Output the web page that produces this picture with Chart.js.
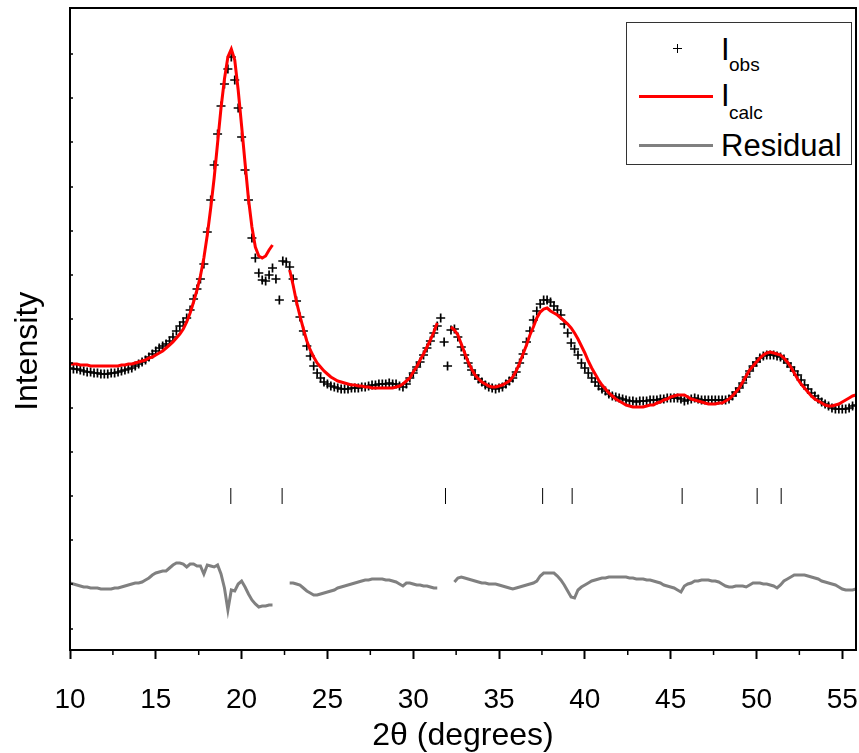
<!DOCTYPE html>
<html>
<head>
<meta charset="utf-8">
<title>XRD refinement</title>
<script src="https://cdn.jsdelivr.net/npm/chart.js@4.4.1/dist/chart.umd.min.js"></script>
<style>
  html, body { margin: 0; padding: 0; background: #fff; overflow: hidden; }
  #wrap { position: relative; width: 859px; height: 753px; overflow: hidden; }
  #myChart { display: block; }
  #legend {
    position: absolute; left: 626px; top: 22px; width: 226px; height: 143px;
    box-sizing: border-box; border: 1px solid #333; background: #fff;
    font-family: 'Liberation Sans', Arial, sans-serif; color: #000;
  }
  #legend .big { position: absolute; font-size: 31px; line-height: 1; }
  #legend .sub { position: absolute; font-size: 19px; line-height: 1; }
  #legend .swatch { position: absolute; left: 12px; width: 74px; height: 3px; }
  #legend .crossH { position: absolute; left: 46px; top: 25px; width: 9px; height: 1px; background: #000; }
  #legend .crossV { position: absolute; left: 50px; top: 21px; width: 1px; height: 9px; background: #000; }
</style>
</head>
<body>
<div id="wrap">
  <canvas id="myChart" width="859" height="753"></canvas>
  <div id="legend">
    <div class="crossH"></div><div class="crossV"></div>
    <span class="big" style="left:94px; top:11px;">I</span><span class="sub" style="left:102px; top:32px;">obs</span>
    <div class="swatch" style="top:72px; background:#ff0000;"></div>
    <span class="big" style="left:94px; top:57px;">I</span><span class="sub" style="left:102px; top:80px;">calc</span>
    <div class="swatch" style="top:121px; background:#808080;"></div>
    <span class="big" style="left:94px; top:107px;">Residual</span>
  </div>
</div>
<script>
// 2-theta grid (degrees), one row per degree
const twoTheta = [
  10.0, 10.2, 10.4, 10.6, 10.8,  11.0, 11.2, 11.4, 11.6, 11.8,
  12.0, 12.2, 12.4, 12.6, 12.8,  13.0, 13.2, 13.4, 13.6, 13.8,
  14.0, 14.2, 14.4, 14.6, 14.8,  15.0, 15.2, 15.4, 15.6, 15.8,
  16.0, 16.2, 16.4, 16.6, 16.8,  17.0, 17.2, 17.4, 17.6, 17.8,
  18.0, 18.2, 18.4, 18.6, 18.8,  19.0, 19.2, 19.4, 19.6, 19.8,
  20.0, 20.2, 20.4, 20.6, 20.8,  21.0, 21.2, 21.4, 21.6, 21.8,
  22.0, 22.2, 22.4, 22.6, 22.8,  23.0, 23.2, 23.4, 23.6, 23.8,
  24.0, 24.2, 24.4, 24.6, 24.8,  25.0, 25.2, 25.4, 25.6, 25.8,
  26.0, 26.2, 26.4, 26.6, 26.8,  27.0, 27.2, 27.4, 27.6, 27.8,
  28.0, 28.2, 28.4, 28.6, 28.8,  29.0, 29.2, 29.4, 29.6, 29.8,
  30.0, 30.2, 30.4, 30.6, 30.8,  31.0, 31.2, 31.4, 31.6, 31.8,
  32.0, 32.2, 32.4, 32.6, 32.8,  33.0, 33.2, 33.4, 33.6, 33.8,
  34.0, 34.2, 34.4, 34.6, 34.8,  35.0, 35.2, 35.4, 35.6, 35.8,
  36.0, 36.2, 36.4, 36.6, 36.8,  37.0, 37.2, 37.4, 37.6, 37.8,
  38.0, 38.2, 38.4, 38.6, 38.8,  39.0, 39.2, 39.4, 39.6, 39.8,
  40.0, 40.2, 40.4, 40.6, 40.8,  41.0, 41.2, 41.4, 41.6, 41.8,
  42.0, 42.2, 42.4, 42.6, 42.8,  43.0, 43.2, 43.4, 43.6, 43.8,
  44.0, 44.2, 44.4, 44.6, 44.8,  45.0, 45.2, 45.4, 45.6, 45.8,
  46.0, 46.2, 46.4, 46.6, 46.8,  47.0, 47.2, 47.4, 47.6, 47.8,
  48.0, 48.2, 48.4, 48.6, 48.8,  49.0, 49.2, 49.4, 49.6, 49.8,
  50.0, 50.2, 50.4, 50.6, 50.8,  51.0, 51.2, 51.4, 51.6, 51.8,
  52.0, 52.2, 52.4, 52.6, 52.8,  53.0, 53.2, 53.4, 53.6, 53.8,
  54.0, 54.2, 54.4, 54.6, 54.8,  55.0, 55.2, 55.4, 55.6, 55.8
];

// observed intensity (arb. units)
const iObs = [
  282, 281, 281, 280, 279,  278, 278, 277, 277, 276,
  276, 276, 277, 277, 278,  279, 280, 281, 282, 284,
  286, 288, 290, 293, 296,  299, 302, 304, 306, 309,
  313, 319, 324, 328, 332,  340, 351, 361, 371, 386,
  418, 450, 485, 516, 544,  566, 581, 593, 570, 542,
  513, 480, 450, 412, 392,  377, 370, 369, 375, 382,
  371, 350, 389, 388, 383,  371, 349, 333, 319, 304,
  294, 284, 277, 272, 268,  266, 264, 263, 262, 261,
  261, 261, 262, 262, 262,  263, 263, 264, 265, 265,
  266, 266, 266, 267, 266,  266, 264, 263, 266, 272,
  277, 283, 288, 295, 302,  309, 317, 324, 332, 308,
  284, 320, 321, 313, 303,  295, 287, 280, 275, 271,
  268, 265, 263, 262, 261,  262, 263, 266, 269, 272,
  278, 287, 296, 308, 319,  330, 339, 346, 350, 350,
  348, 344, 340, 335, 326,  317, 307, 301, 295, 287,
  282, 277, 272, 268, 264,  261, 259, 256, 254, 253,
  252, 251, 250, 249, 249,  248, 249, 249, 249, 250,
  250, 250, 251, 251, 252,  252, 252, 252, 251, 249,
  250, 251, 252, 251, 250,  250, 250, 250, 250, 250,
  250, 250, 251, 254, 258,  262, 267, 273, 279, 284,
  288, 292, 294, 295, 295,  295, 294, 293, 291, 287,
  283, 279, 275, 270, 265,  261, 257, 254, 251, 248,
  246, 244, 242, 241, 241,  241, 241, 242, 244, 245
];

// calculated intensity (null = excluded region)
const iCalc = [
  286, 286, 286, 285, 285,  285, 284, 284, 284, 284,
  284, 284, 284, 284, 284,  285, 285, 286, 286, 287,
  288, 289, 290, 292, 293,  295, 297, 299, 302, 305,
  308, 312, 316, 321, 328,  337, 348, 360, 374, 392,
  415, 442, 472, 507, 542,  571, 593, 601, 590, 560,
  524, 487, 451, 423, 403,  394, 392, 394, 400, 405,
  null, null, null, null, 380,  365, 348, 334, 321, 309,
  300, 293, 287, 283, 279,  276, 273, 271, 269, 268,
  267, 266, 265, 265, 264,  264, 263, 263, 262, 262,
  262, 262, 262, 262, 262,  263, 264, 266, 269, 272,
  278, 283, 290, 296, 303,  310, 318, 327, null, null,
  null, 323, 320, 315, 306,  297, 288, 281, 275, 271,
  268, 266, 264, 263, 263,  264, 265, 267, 269, 273,
  279, 287, 296, 305, 315,  323, 332, 338, 341, 342,
  339, 337, 335, 332, 329,  326, 322, 317, 311, 304,
  297, 289, 282, 276, 270,  265, 261, 257, 254, 251,
  249, 247, 245, 244, 243,  243, 243, 243, 244, 245,
  245, 247, 248, 250, 251,  253, 254, 255, 255, 255,
  253, 251, 250, 249, 248,  247, 246, 246, 246, 247,
  247, 249, 251, 254, 258,  262, 268, 274, 280, 284,
  288, 292, 295, 297, 298,  297, 296, 295, 292, 288,
  283, 277, 271, 266, 262,  258, 254, 251, 249, 247,
  245, 244, 244, 245, 246,  248, 250, 252, 254, 255
];

// difference curve, drawn with its own offset below the patterns
const iResidual = [
  67, 66, 65, 64, 63,  63, 62, 62, 62, 61,
  61, 61, 61, 62, 62,  63, 64, 65, 66, 67,
  67, 68, 70, 72, 75,  77, 78, 79, 79, 82,
  85, 87, 87, 86, 83,  86, 86, 84, 84, 76,
  85, 84, 83, 85, 76,  62, 40, 60, 59, 66,
  69, 63, 56, 50, 46,  43, 44, 44, 45, 45,
  null, null, null, null, 67,  67, 66, 65, 62, 59,
  57, 55, 55, 56, 57,  58, 59, 60, 62, 63,
  64, 65, 66, 67, 68,  69, 70, 70, 71, 71,
  71, 71, 70, 70, 69,  68, 66, 64, 67, 67,
  66, 65, 65, 64, 64,  63, 62, 62, null, null,
  null, null, 68, 72, 73,  72, 71, 70, 69, 68,
  67, 67, 66, 66, 66,  65, 64, 63, 62, 61,
  62, 63, 64, 65, 66,  67, 69, 74, 77, 77,
  77, 77, 74, 70, 65,  59, 53, 52, 60, 63,
  65, 67, 69, 70, 71,  72, 72, 73, 73, 73,
  73, 73, 73, 72, 72,  71, 71, 71, 70, 70,
  69, 68, 67, 65, 64,  63, 62, 60, 58, 64,
  66, 67, 69, 69, 70,  70, 70, 69, 69, 68,
  66, 64, 63, 63, 64,  64, 64, 63, 65, 67,
  67, 67, 66, 66, 65,  64, 62, 65, 69, 71,
  73, 75, 75, 75, 75,  74, 73, 72, 71, 69,
  68, 67, 66, 65, 63,  61, 60, 60, 60, 61
];

// Bragg reflection positions (2-theta)
const braggPos = [19.37, 22.36, 31.88, 37.54, 39.26, 45.67, 50.04, 51.44];
const braggLevel = 154;

const xMajorTicks = [10, 15, 20, 25, 30, 35, 40, 45, 50, 55];
const xMinorTicks = [12.5, 17.5, 22.5, 27.5, 32.5, 37.5, 42.5, 47.5, 52.5];
const yTicks = [21, 66, 110, 154, 198, 242, 287, 331, 375, 419, 463, 508, 552, 596];

const toPoints = (ys) => twoTheta.map((t, i) => ({ x: t, y: ys[i] }));

Chart.defaults.font.family = "'Liberation Sans', Arial, sans-serif";
Chart.defaults.color = '#000';

// frame on all four sides plus the small unlabelled tick marks
const axisExtras = {
  id: 'axisExtras',
  afterDraw(chart) {
    const { ctx, chartArea: area, scales: { x, y } } = chart;
    ctx.save();
    ctx.strokeStyle = '#000';
    ctx.lineWidth = 2;
    ctx.strokeRect(area.left, area.top, area.right - area.left, area.bottom - area.top);
    ctx.lineWidth = 1.5;
    ctx.beginPath();
    xMinorTicks.forEach(v => {
      const px = x.getPixelForValue(v);
      ctx.moveTo(px, area.bottom);
      ctx.lineTo(px, area.bottom + 5);
    });
    yTicks.forEach(v => {
      const py = y.getPixelForValue(v);
      ctx.moveTo(area.left, py);
      ctx.lineTo(area.left + 3, py);
    });
    ctx.stroke();
    ctx.restore();
  }
};

const ctx = document.getElementById('myChart');
const chart = new Chart(ctx, {
  type: 'scatter',
  data: {
    datasets: [
      {
        label: 'Icalc',
        data: toPoints(iCalc),
        showLine: true,
        spanGaps: false,
        borderColor: '#ff0000',
        borderWidth: 3,
        pointRadius: 0,
        order: 0
      },
      {
        label: 'Iobs',
        data: toPoints(iObs),
        showLine: false,
        pointStyle: 'cross',
        pointRadius: 4.5,
        borderColor: '#000',
        borderWidth: 1.7,
        order: 1
      },
      {
        label: 'Residual',
        data: toPoints(iResidual),
        showLine: true,
        spanGaps: false,
        borderColor: '#808080',
        borderWidth: 3,
        pointRadius: 0,
        order: 2
      },
      {
        label: 'Bragg positions',
        data: braggPos.map(p => ({ x: p, y: braggLevel })),
        showLine: false,
        pointStyle: 'line',
        rotation: 90,
        pointRadius: 8,
        borderColor: '#000',
        borderWidth: 1,
        order: 3
      }
    ]
  },
  options: {
    responsive: false,
    animation: false,
    layout: { autoPadding: false, padding: { top: 8, right: 3, left: 0, bottom: 0 } },
    plugins: {
      legend: { display: false },
      tooltip: { enabled: false }
    },
    scales: {
      x: {
        type: 'linear',
        min: 10,
        max: 55.8,
        afterBuildTicks: (scale) => { scale.ticks = xMajorTicks.map(v => ({ value: v })); },
        afterFit: (scale) => { scale.height = 103; scale.paddingLeft = 0; scale.paddingRight = 0; },
        ticks: {
          font: { family: "'Liberation Sans Narrow', 'Liberation Sans', Arial", size: 28 },
          color: '#000',
          padding: 24,
          maxRotation: 0
        },
        grid: { drawOnChartArea: false, drawTicks: true, tickLength: 9, tickWidth: 2, tickColor: '#000' },
        border: { display: true, color: '#000', width: 2 },
        title: {
          display: true,
          text: '2\u03b8 (degrees)',
          font: { size: 32 },
          color: '#000',
          padding: { top: 0, bottom: -2 }
        }
      },
      y: {
        type: 'linear',
        min: 0,
        max: 642,
        afterBuildTicks: (scale) => { scale.ticks = yTicks.map(v => ({ value: v })); },
        afterFit: (scale) => { scale.width = 70; scale.paddingTop = 0; scale.paddingBottom = 0; },
        ticks: { display: false },
        grid: { drawOnChartArea: false, drawTicks: false },
        border: { display: true, color: '#000', width: 2 },
        title: {
          display: true,
          text: 'Intensity\u00a0\u00a0\u00a0\u00a0\u00a0',
          font: { size: 32 },
          color: '#000',
          padding: { top: 9, bottom: 0 }
        }
      }
    }
  },
  plugins: [axisExtras]
});
</script>
</body>
</html>
